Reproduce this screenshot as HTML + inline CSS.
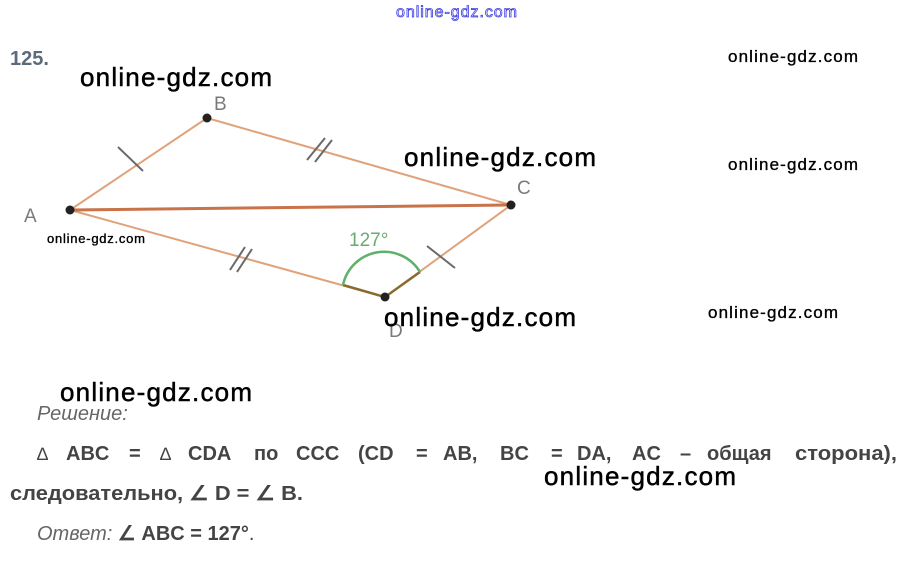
<!DOCTYPE html>
<html><head><meta charset="utf-8"><style>
html,body{margin:0;padding:0;background:#fff;width:913px;height:561px;overflow:hidden}
svg{display:block}
</style></head><body>
<svg width="913" height="561" viewBox="0 0 913 561" xmlns="http://www.w3.org/2000/svg" font-family="Liberation Sans, sans-serif">
<text x="396" y="17" font-size="16" fill="#fff" stroke="#3a3ae0" stroke-width="0.8" textLength="121">online-gdz.com</text>
<text x="10" y="65" font-size="20" font-weight="bold" fill="#5c6b7a">125.</text>

<g stroke="#e0a27a" stroke-width="2" fill="none">
<line x1="70" y1="210" x2="207" y2="118"/>
<line x1="207" y1="118" x2="511" y2="205"/>
<line x1="70" y1="210" x2="385" y2="297"/>
<line x1="385" y1="297" x2="511" y2="205"/>
</g>
<line x1="70" y1="210" x2="511" y2="205" stroke="#c8734a" stroke-width="3"/>
<line x1="343" y1="285" x2="385" y2="297" stroke="#8a6a30" stroke-width="2.5"/>
<line x1="385" y1="297" x2="420" y2="272" stroke="#8a6a30" stroke-width="2.5"/>
<path d="M343 285 A42 42 0 0 1 420 272" stroke="#5fb06a" stroke-width="2.5" fill="none"/>
<g stroke="#6a6a6a" stroke-width="2">
<line x1="118" y1="147" x2="143" y2="171"/>
<line x1="307" y1="160" x2="325" y2="138"/>
<line x1="315" y1="162" x2="332" y2="140"/>
<line x1="230" y1="270" x2="245" y2="247"/>
<line x1="237" y1="272" x2="252" y2="249"/>
<line x1="427" y1="246" x2="455" y2="268"/>
</g>
<g fill="#222">
<circle cx="70" cy="210" r="4.5"/>
<circle cx="207" cy="118" r="4.5"/>
<circle cx="511" cy="205" r="4.5"/>
<circle cx="385" cy="297" r="4.5"/>
</g>
<g font-size="19" fill="#7a7a7a">
<text x="214" y="110">B</text>
<text x="24" y="222">A</text>
<text x="517" y="194">C</text>
<text x="389" y="337">D</text>
</g>
<text x="349" y="246" font-size="19" fill="#6aaa70">127°</text>

<g fill="#000" stroke="#000" stroke-width="0.5">
<text x="80" y="86" font-size="26" textLength="192">online-gdz.com</text>
<text x="404" y="166" font-size="26" textLength="192">online-gdz.com</text>
<text x="384" y="326" font-size="26" textLength="192">online-gdz.com</text>
<text x="60" y="401" font-size="26" textLength="192">online-gdz.com</text>
<text x="544" y="485" font-size="26" textLength="192">online-gdz.com</text>
</g>
<g fill="#000" stroke="#000" stroke-width="0.35">
<text x="728" y="62" font-size="17" textLength="130">online-gdz.com</text>
<text x="728" y="170" font-size="17" textLength="130">online-gdz.com</text>
<text x="708" y="318" font-size="17" textLength="130">online-gdz.com</text>
<text x="47" y="243" font-size="13" textLength="98">online-gdz.com</text>
</g>

<text x="37" y="420" font-size="20" font-style="italic" fill="#666">Решение:</text>
<g font-size="20" font-weight="bold" fill="#444">
<text x="37" y="460" font-weight="normal" font-size="18">∆</text>
<text x="66" y="460">ABC</text>
<text x="129" y="460">=</text>
<text x="160" y="460" font-weight="normal" font-size="18">∆</text>
<text x="188" y="460">CDA</text>
<text x="254" y="460">по</text>
<text x="296" y="460">CCC</text>
<text x="358" y="460">(CD</text>
<text x="416" y="460">=</text>
<text x="443" y="460">AB,</text>
<text x="500" y="460">BC</text>
<text x="551" y="460">=</text>
<text x="577" y="460">DA,</text>
<text x="632" y="460">AC</text>
<text x="680" y="460">–</text>
<text x="707" y="460">общая</text>
<text x="795" y="460" textLength="102" lengthAdjust="spacingAndGlyphs">сторона),</text>
<text x="10" y="500" textLength="293" lengthAdjust="spacingAndGlyphs">следовательно, ∠ D = ∠ B.</text>
</g>
<text x="37" y="540" font-size="20" fill="#444"><tspan font-style="italic" fill="#666">Ответ:</tspan><tspan font-weight="bold"> ∠ ABC = 127°</tspan>.</text>
</svg>
</body></html>
